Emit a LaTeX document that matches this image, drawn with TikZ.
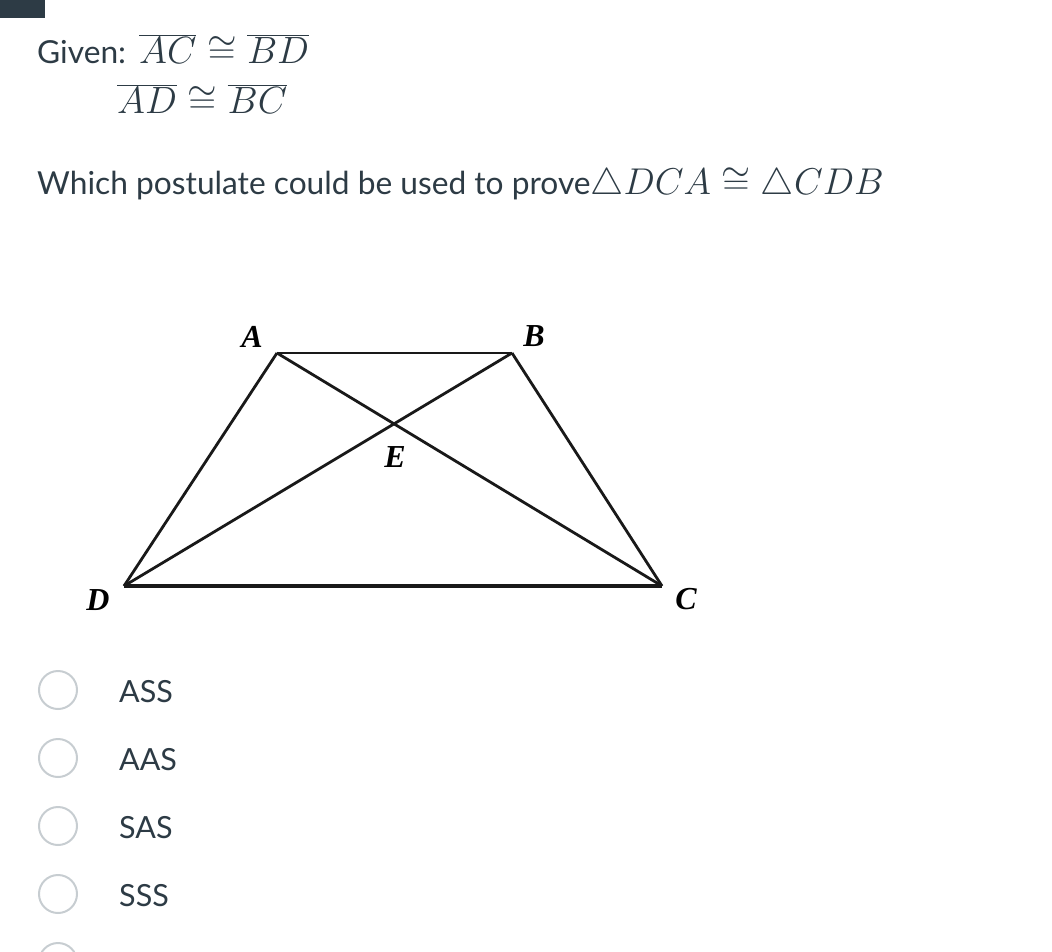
\RequirePackage{fix-cm}
\documentclass[tikz,border=0pt]{standalone}
\usepackage{fontspec}
\setmainfont{Lato}
\newfontfamily\tnr{Liberation Serif}
\definecolor{ink}{HTML}{2D3B45}
\definecolor{ring}{HTML}{C7CDD1}
\begin{document}
\begin{tikzpicture}[x=1pt,y=-1pt,
  txt/.style={anchor=base west,inner sep=0pt,text=ink,font=\fontsize{31.7}{38}\selectfont},
  mth/.style={anchor=base west,inner sep=0pt,text=ink,font=\fontsize{38}{44}\selectfont},
  vlab/.style={inner sep=0pt,font=\tnr\bfseries\itshape\fontsize{32}{36}\selectfont},
  seg/.style={line width=2.8pt,black!90},
  radio/.style={draw=ring,line width=2pt,circle,minimum size=38pt,inner sep=0pt},
  opt/.style={anchor=base west,inner sep=0pt,text=ink,font=\fontsize{30.5}{36}\selectfont}]
\useasboundingbox (0,0) rectangle (1052,951);
\fill[ink] (0,0) rectangle (45,18);
% header
\node[txt] (given) at (37,63) {Given:};
\node[mth] (g1) at (139,63) {$\overline{AC}\cong\overline{BD}$};
\node[mth] (g2) at (117,113) {$\overline{AD}\cong\overline{BC}$};
\node[txt] (q) at (37,194) {Which postulate could be used to prove\fontsize{37.3}{44}\selectfont$\triangle DCA\cong\triangle CDB$};
% figure
\coordinate (A) at (277,353);
\coordinate (B) at (512,353);
\coordinate (C) at (662,586);
\coordinate (D) at (124,586);
\coordinate (E) at (393,424);
\draw[seg] (A) -- (B);
\draw[seg] (A) -- (D);
\draw[seg] (B) -- (C);
\draw[seg] (A) -- (C);
\draw[seg] (B) -- (D);
\draw[seg,line width=3.6pt] (D) -- (C);
\node[vlab] (lA) at (252,337) {A};
\node[vlab] (lB) at (534,336) {B};
\node[vlab] (lE) at (395,457) {E};
\node[vlab] (lD) at (98,600) {D};
\node[vlab] (lC) at (686,599) {C};
% options
\node[radio] (r1) at (58,690) {};
\node[radio] (r2) at (58,758) {};
\node[radio] (r3) at (58,826) {};
\node[radio] (r4) at (58,894) {};
\node[radio] (r5) at (58,962) {};
\node[opt] (o1) at (119,702) {ASS};
\node[opt] (o2) at (119,770) {AAS};
\node[opt] (o3) at (119,838) {SAS};
\node[opt] (o4) at (119,906) {SSS};
\end{tikzpicture}
\end{document}
